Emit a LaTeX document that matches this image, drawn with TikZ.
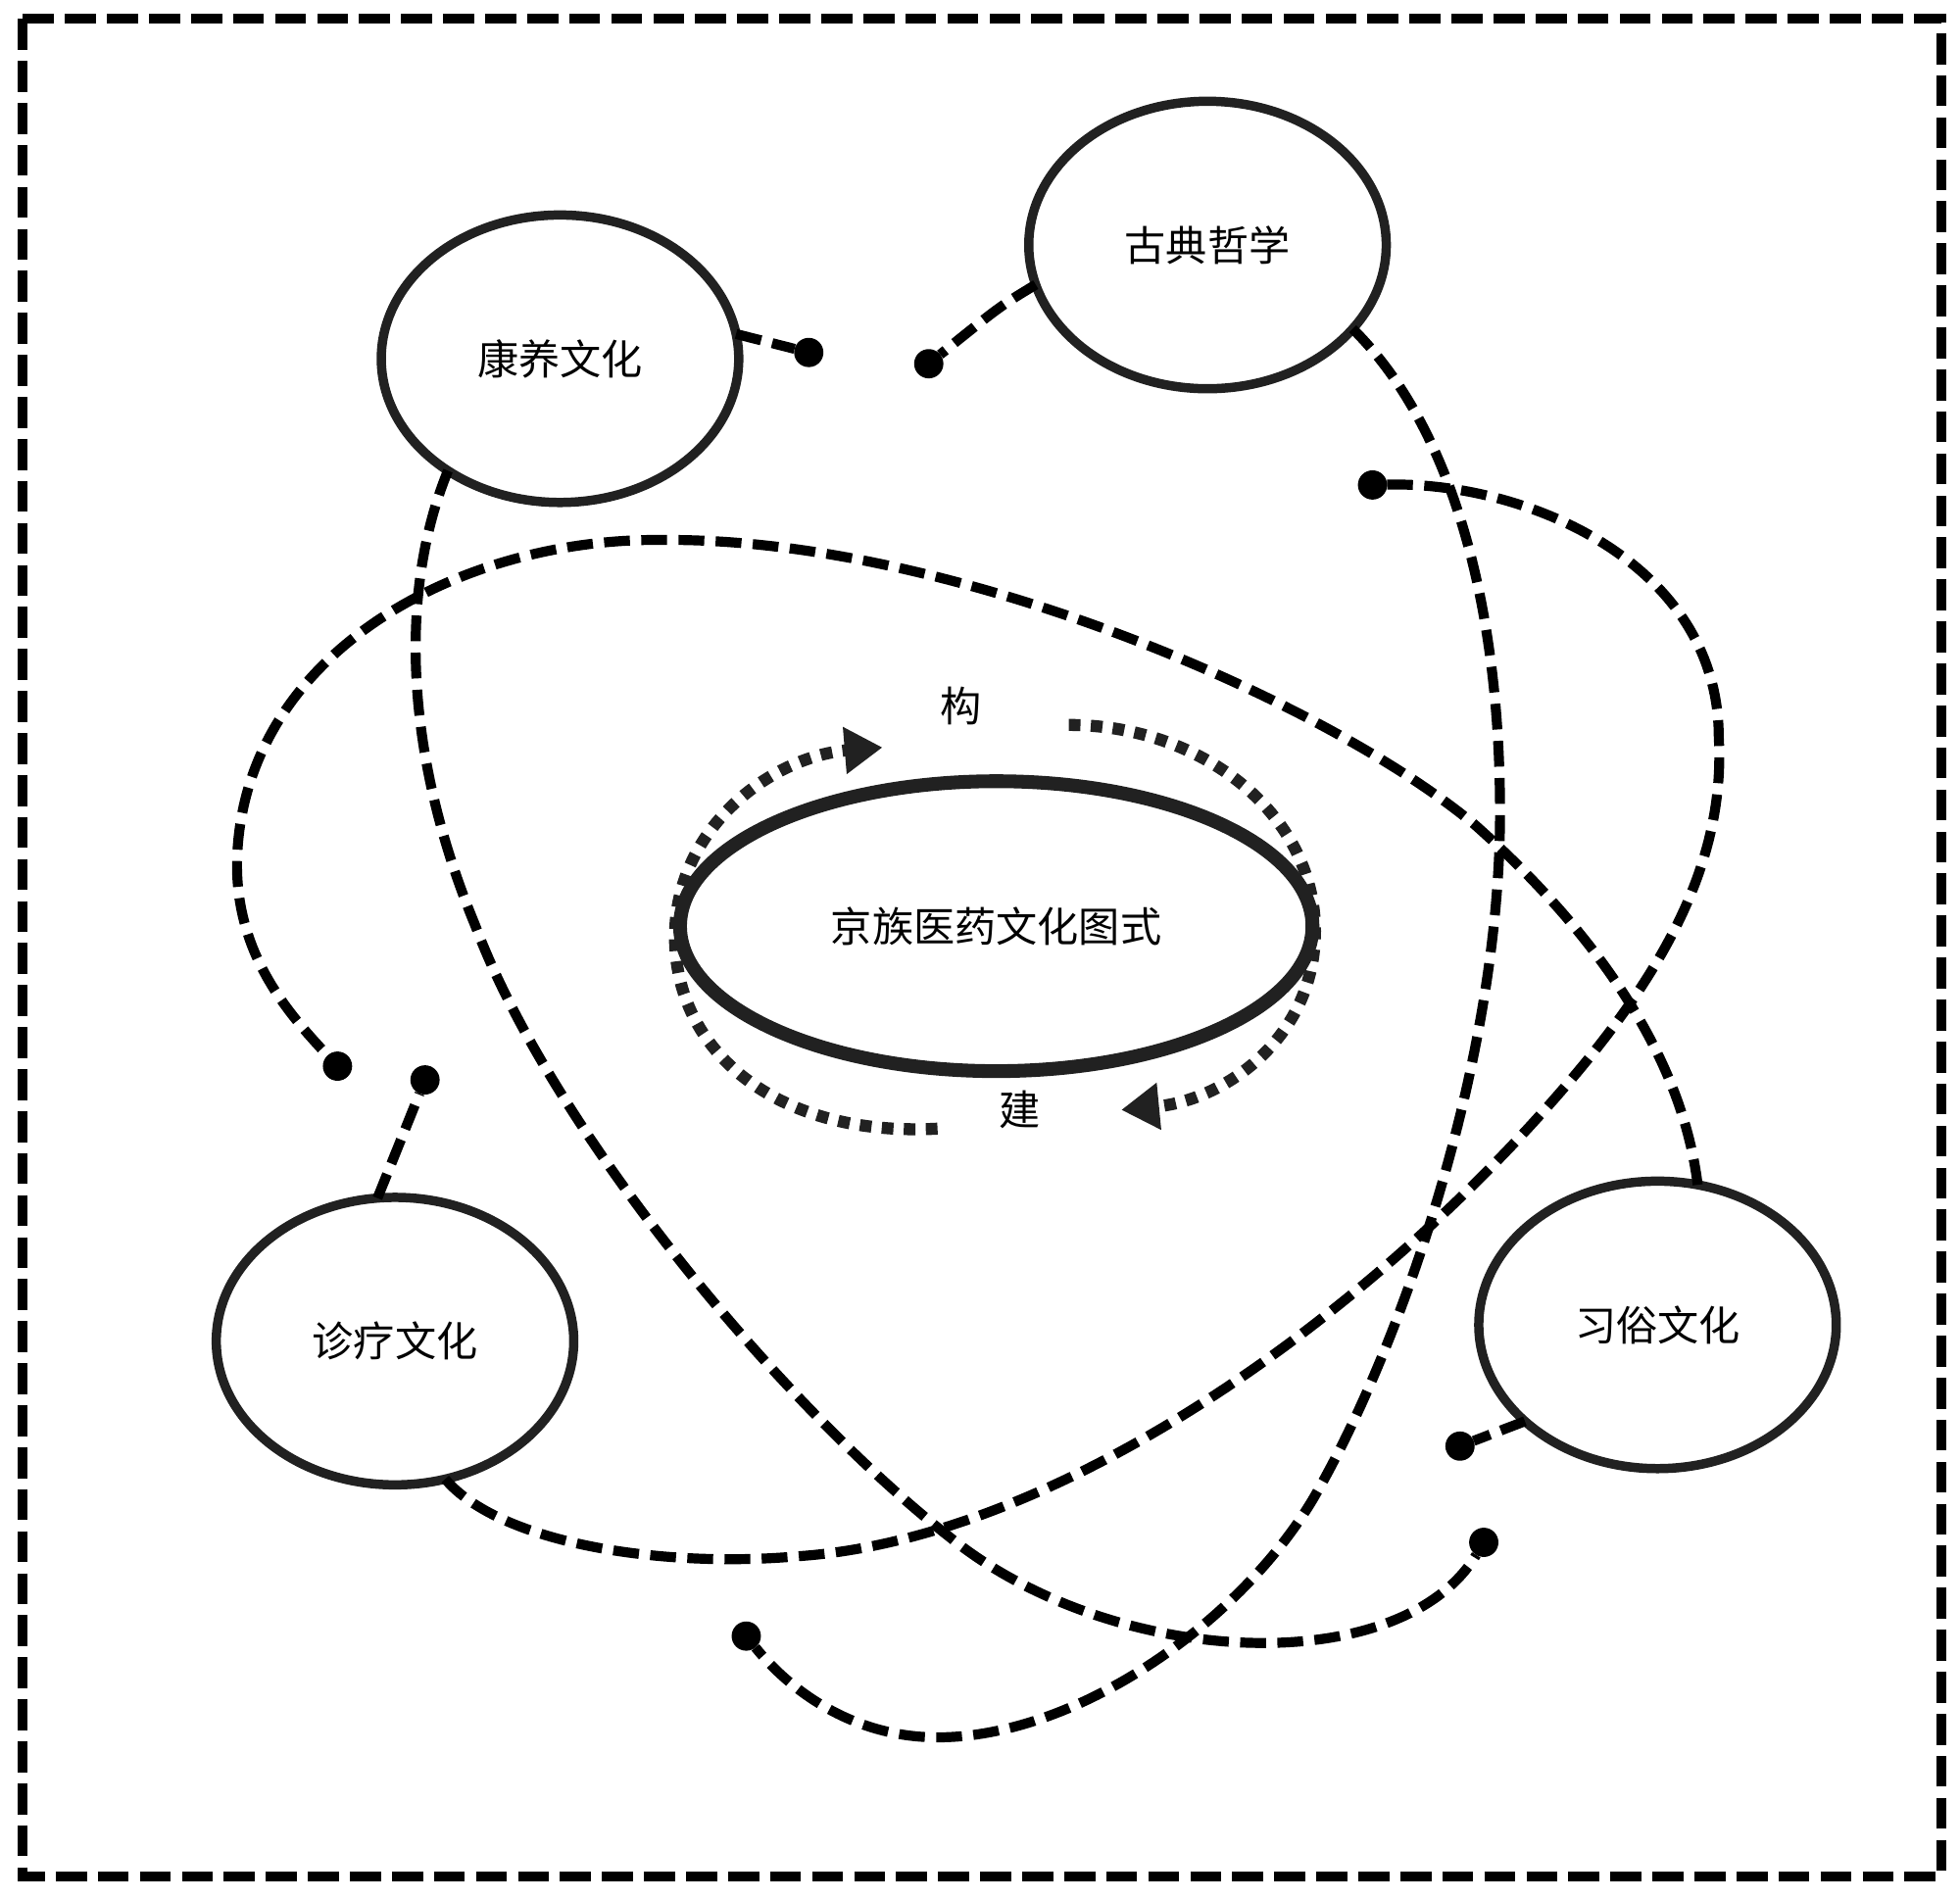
\documentclass[tikz,border=0pt]{standalone}
\usepackage{fontspec}
\setmainfont{Noto Sans CJK SC}
\usetikzlibrary{shapes.geometric,arrows.meta}
\begin{document}
\begin{tikzpicture}[x=0.012755cm,y=-0.012755cm,
  sat/.style={ellipse, draw=black!87, line width=2.7pt, minimum width=3.648cm, minimum height=2.934cm, inner sep=0pt, outer sep=0pt, font=\fontsize{12pt}{14pt}\selectfont},
  core/.style={ellipse, draw=black!87, line width=4pt, minimum width=6.454cm, minimum height=2.959cm, inner sep=0pt, outer sep=0pt, font=\fontsize{12pt}{14pt}\selectfont},
  lbl/.style={inner sep=0pt, font=\fontsize{12pt}{14pt}\selectfont},
  dotend/.style={circle, fill=black, minimum size=8.5pt, inner sep=0pt, outer sep=0pt},
  conn/.style={line width=2.9pt, dash pattern=on 7.5pt off 3.3pt, black},
  dotarc/.style={line width=3.5pt, dash pattern=on 3.4pt off 3pt, black!87},
  frame/.style={line width=2.85pt, dash pattern=on 9pt off 3.2pt, black}]
\useasboundingbox (0,0) rectangle (1568,1520);
\draw[frame] (18,15) rectangle (1553,1501);

% nodes
\node[core] (core) at (797,741) {京族医药文化图式};
\node[sat] (kang) at (448,287) {康养文化};
\node[sat] (gu) at (966,196) {古典哲学};
\node[sat] (zhen) at (316,1073) {诊疗文化};
\node[sat] (xi) at (1326,1060) {习俗文化};
\node[lbl] (lgou) at (769,565) {构};
\node[lbl] (ljian) at (816,888) {建};

% dot ends
\node[dotend] (d1) at (647,282) {};
\node[dotend] (d2) at (743,291) {};
\node[dotend] (d3) at (1098,388) {};
\node[dotend] (d4) at (270,853) {};
\node[dotend] (d5) at (340,864) {};
\node[dotend] (d6) at (1168,1157) {};
\node[dotend] (d7) at (1187,1234) {};
\node[dotend] (d8) at (597,1309) {};

% short connectors
\draw[conn] (kang.8) -- (d1);
\draw[conn] (gu.193) .. controls (800,245) .. (d2);
\draw[conn] (zhen.97) -- (d5);
\draw[conn] (xi.216) -- (d6);

% long connectors
\draw[conn] (gu.-30) .. controls (1160,340) and (1200,480) .. (1200,650)
  .. controls (1200,850) and (1120,1080) .. (1050,1200)
  .. controls (990,1300) and (860,1390) .. (750,1390)
  .. controls (680,1390) and (630,1350) .. (d8);

\draw[conn] (kang.-135) .. controls (320,470) and (322,600) .. (380,740)
  .. controls (440,900) and (620,1120) .. (760,1230)
  .. controls (890,1335) and (1120,1345) .. (d7);

\draw[conn] (xi.74) .. controls (1345,840) and (1270,740) .. (1180,660)
  .. controls (1060,560) and (760,430) .. (530,432)
  .. controls (370,430) and (200,520) .. (190,680)
  .. controls (185,760) and (230,810) .. (d4);

\draw[conn] (zhen.-70) .. controls (400,1235) and (530,1255) .. (640,1245)
  .. controls (850,1230) and (1100,1050) .. (1260,860)
  .. controls (1340,765) and (1380,680) .. (1375,590)
  .. controls (1375,450) and (1220,385) .. (d3);

% dotted cycle arrows
\draw[dotarc, -{Triangle[length=11pt,width=13pt]}] (855,580) .. controls (960,580) and (1052,650) .. (1052,745)
  .. controls (1052,830) and (980,880) .. (897,888);
\draw[dotarc, -{Triangle[length=11pt,width=13pt]}] (750,903) .. controls (620,910) and (540,840) .. (540,750)
  .. controls (540,660) and (620,605) .. (706,598);
\end{tikzpicture}
\end{document}
